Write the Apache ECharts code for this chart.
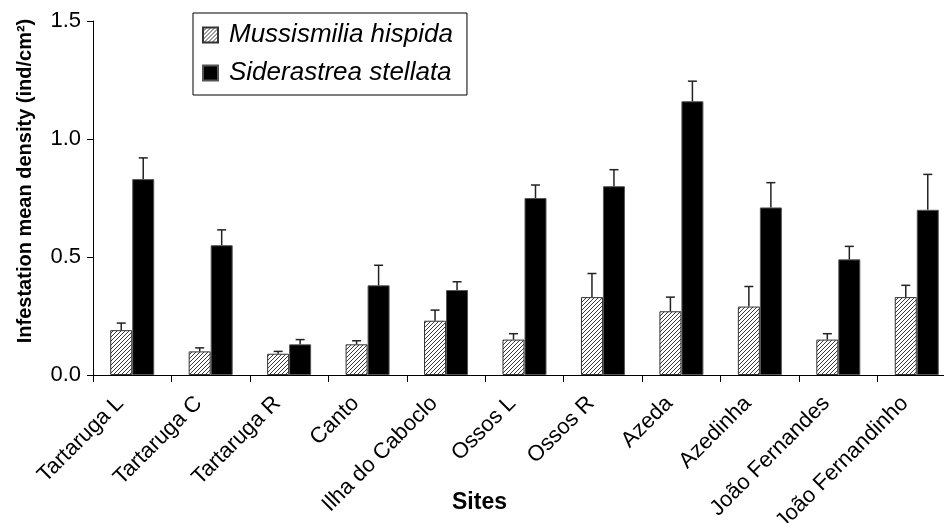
<!DOCTYPE html>
<html>
<head>
<meta charset="utf-8">
<script src="https://cdn.jsdelivr.net/npm/echarts@6/dist/echarts.min.js"></script>
<style>
  html, body { margin: 0; padding: 0; background: #fff; }
  #chart { width: 944px; height: 523px; }
</style>
</head>
<body>
<div id="chart"></div>
<script>
// Sampling sites
const sites = ['Tartaruga L', 'Tartaruga C', 'Tartaruga R', 'Canto', 'Ilha do Caboclo',
  'Ossos L', 'Ossos R', 'Azeda', 'Azedinha', 'João Fernandes', 'João Fernandinho'];

// Mean infestation density (ind/cm²) and standard error per species
const mussismilia = [0.19, 0.10, 0.09, 0.13, 0.23, 0.15, 0.33, 0.27, 0.29, 0.15, 0.33];
const mussismiliaErr = [0.03, 0.015, 0.01, 0.015, 0.045, 0.025, 0.10, 0.06, 0.085, 0.025, 0.05];
const siderastrea = [0.83, 0.55, 0.13, 0.38, 0.36, 0.75, 0.80, 1.16, 0.71, 0.49, 0.70];
const siderastreaErr = [0.09, 0.065, 0.02, 0.085, 0.035, 0.055, 0.07, 0.085, 0.105, 0.055, 0.15];

// Y axis ticks
const yTicks = [0, 0.5, 1.0, 1.5];

const FONT = '"Liberation Sans", Arial, sans-serif';
const BAR_W = 22;

// Diagonal hatch fill
function hatchPattern() {
  const c = document.createElement('canvas');
  c.width = 4; c.height = 4;
  const g = c.getContext('2d');
  g.fillStyle = '#ffffff';
  g.fillRect(0, 0, 4, 4);
  g.strokeStyle = '#3a3a3a';
  g.lineWidth = 1;
  g.beginPath();
  g.moveTo(0, 4); g.lineTo(4, 0);
  g.moveTo(-1, 1); g.lineTo(1, -1);
  g.moveTo(3, 5); g.lineTo(5, 3);
  g.stroke();
  return { image: c, repeat: 'repeat' };
}

function errorSeries(values, errs, offset) {
  return {
    type: 'custom',
    silent: true,
    z: 5,
    data: values.map((v, i) => [i, v, errs[i]]),
    renderItem: function (params, api) {
      const i = api.value(0), v = api.value(1), e = api.value(2);
      const base = api.coord([i, v]);
      const top = api.coord([i, v + e]);
      const x = base[0] + offset;
      const style = { stroke: '#222', lineWidth: 1.5 };
      return {
        type: 'group',
        children: [
          { type: 'line', shape: { x1: x, y1: base[1], x2: x, y2: top[1] }, style: style },
          { type: 'line', shape: { x1: x - 4.5, y1: top[1], x2: x + 4.5, y2: top[1] }, style: style }
        ]
      };
    }
  };
}

const chart = echarts.init(document.getElementById('chart'), null, { renderer: 'canvas' });

chart.setOption({
  animation: false,
  backgroundColor: '#ffffff',
  textStyle: { fontFamily: FONT, color: '#000' },
  grid: { left: 93, right: -12, top: 21, bottom: 148, containLabel: false, outerBoundsMode: 'none' },
  legend: {
    orient: 'vertical',
    left: 193,
    top: 13,
    padding: [9, 14, 9, 9],
    itemGap: 12,
    itemWidth: 15,
    itemHeight: 15,
    icon: 'rect',
    borderColor: '#000',
    borderWidth: 1,
    backgroundColor: '#fff',
    data: ['Mussismilia hispida', 'Siderastrea stellata'],
    textStyle: { fontFamily: FONT, fontSize: 26, fontStyle: 'italic', color: '#000', lineHeight: 26, padding: [0, 0, 0, 6] }
  },
  xAxis: {
    type: 'category',
    data: sites,
    boundaryGap: true,
    name: 'Sites',
    nameLocation: 'middle',
    nameGap: 116,
    nameMoveOverlap: false,
    nameTextStyle: { fontFamily: FONT, fontSize: 23, fontWeight: 'bold', color: '#000', padding: [0, 90, 0, 0] },
    axisLine: { lineStyle: { color: '#000', width: 1 } },
    axisTick: { show: true, length: 7, inside: false, alignWithLabel: false, lineStyle: { color: '#000' } },
    axisLabel: { rotate: 45, interval: 0, margin: 13, padding: [0, 17, 0, 0], fontFamily: FONT, fontSize: 22, color: '#000' },
    splitLine: { show: false }
  },
  yAxis: {
    type: 'value',
    min: yTicks[0],
    max: yTicks[yTicks.length - 1],
    interval: yTicks[1] - yTicks[0],
    name: 'Infestation mean density (ind/cm²)',
    nameLocation: 'middle',
    nameGap: 58,
    nameTextStyle: { fontFamily: FONT, fontSize: 20, fontWeight: 'bold', color: '#000', padding: [0, 0, 0, 34] },
    axisLine: { show: true, lineStyle: { color: '#000', width: 1 } },
    axisTick: { show: true, length: 6, inside: false, lineStyle: { color: '#000' } },
    axisLabel: { margin: 12, fontFamily: FONT, fontSize: 22, color: '#000', formatter: v => v.toFixed(1) },
    splitLine: { show: false }
  },
  series: [
    {
      name: 'Mussismilia hispida',
      type: 'bar',
      barWidth: BAR_W,
      barGap: '0%',
      data: mussismilia,
      itemStyle: { color: hatchPattern(), borderColor: '#333', borderWidth: 1 }
    },
    {
      name: 'Siderastrea stellata',
      type: 'bar',
      barWidth: BAR_W,
      barGap: '0%',
      data: siderastrea,
      itemStyle: { color: '#000', borderColor: '#555', borderWidth: 1 }
    },
    errorSeries(mussismilia, mussismiliaErr, -BAR_W / 2),
    errorSeries(siderastrea, siderastreaErr, BAR_W / 2)
  ]
});
</script>
</body>
</html>
